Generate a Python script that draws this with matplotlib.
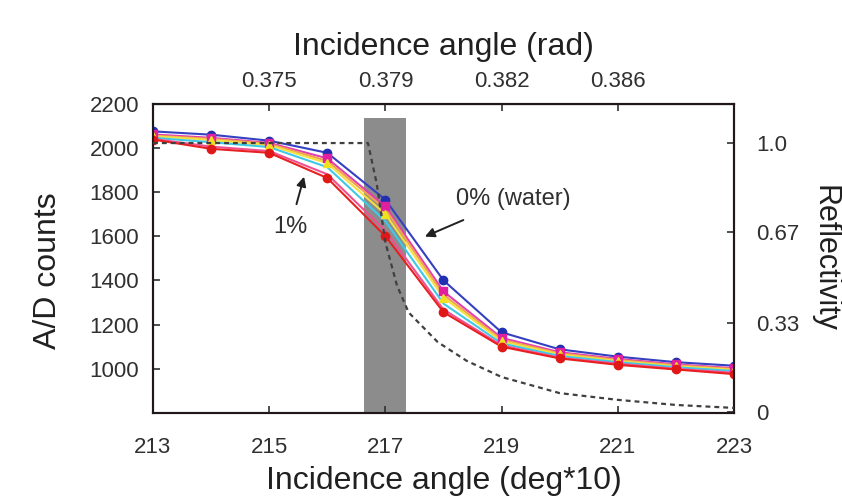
import numpy as np
import matplotlib
matplotlib.use('Agg')
from matplotlib import pyplot as plt

plt.rcParams['font.family'] = ['Liberation Sans', 'DejaVu Sans']

# incidence angle (deg*10) at each measured point
angle = [213, 214, 215, 216, 217, 218, 219, 220, 221, 222, 223]

# A/D counts, 0% (water) down to 1%
counts_0 = [2074, 2059, 2032, 1977, 1765, 1400, 1165, 1088, 1055, 1030, 1014]
counts_a = [2060, 2045, 2022, 1952, 1735, 1350, 1140, 1075, 1045, 1020, 1003]
counts_b = [2055, 2040, 2018, 1940, 1722, 1335, 1132, 1070, 1040, 1016, 999]
counts_c = [2052, 2035, 2012, 1930, 1700, 1322, 1125, 1065, 1035, 1012, 995]
counts_d = [2045, 2025, 2003, 1912, 1668, 1295, 1115, 1058, 1030, 1007, 990]
counts_e = [2040, 2005, 1985, 1880, 1625, 1268, 1106, 1050, 1023, 1000, 982]
counts_1 = [2037, 1995, 1977, 1863, 1600, 1256, 1100, 1047, 1018, 997, 976]

# theoretical reflectivity curve (dashed)
refl_angle = [213, 214, 215, 216, 216.7, 216.85, 217.0, 217.2, 217.4, 217.9, 218.4, 219, 220, 221, 222, 223]
refl = [1.0, 1.0, 1.0, 1.0, 1.0, 0.85, 0.63, 0.47, 0.37, 0.26, 0.19, 0.13, 0.07, 0.045, 0.026, 0.015]

# shaded angle band
band = [216.63, 217.35]
band_top = 2135

bottom_ticks = [213, 215, 217, 219, 221, 223]
top_ticks = [215, 217, 219, 221]
top_labels = ['0.375', '0.379', '0.382', '0.386']
left_ticks = [1000, 1200, 1400, 1600, 1800, 2000, 2200]
right_ticks = [0, 0.33, 0.67, 1.0]
right_labels = ['0', '0.33', '0.67', '1.0']

fig = plt.figure(figsize=(8.42, 4.96), dpi=100)
ax = fig.add_axes([0.1817, 0.1673, 0.69, 0.624])

ymin, ymax = 800, 2200
ax.axvspan(band[0], band[1], ymin=0, ymax=(band_top - ymin) / (ymax - ymin),
           color='#8c8c8c', zorder=0, lw=0)

series = [
    (counts_0, '#3540c0', 'o', '#2030b0'),
    (counts_a, '#e040b0', 's', '#e020a0'),
    (counts_b, '#f5a050', None, None),
    (counts_c, '#f0e040', '^', '#f0e020'),
    (counts_d, '#40c8e8', None, None),
    (counts_e, '#f05090', None, None),
    (counts_1, '#e82020', 'o', '#e01818'),
]
for vals, col, mk, mcol in series:
    ax.plot(angle, vals, color=col, lw=1.5, zorder=3)
    if mk:
        ax.plot(angle, vals, ls='none', marker=mk, ms=6, color=mcol, zorder=4)

ax.set_xlim(213, 223)
ax.set_ylim(ymin, ymax)
ax.set_xticks(bottom_ticks)
ax.set_yticks(left_ticks)
ax.tick_params(direction='in', length=5, width=1.2, labelsize=16, colors='#303030')
ax.tick_params(axis='x', pad=17)
ax.tick_params(axis='y', pad=10)
for s in ax.spines.values():
    s.set_linewidth(1.5)
    s.set_color('#201818')

ax.set_xlabel('Incidence angle (deg*10)', fontsize=23, color='#202020', va='center')
ax.xaxis.set_label_coords(0.5, -0.22)
ax.set_ylabel('A/D counts', fontsize=23, color='#202020', va='center')
ax.yaxis.set_label_coords(-0.181, 0.46)

top = ax.secondary_xaxis('top')
top.set_xticks(top_ticks)
top.set_xticklabels(top_labels)
top.tick_params(direction='in', length=5, width=1.2, labelsize=16, colors='#303030', pad=8)
top.set_xlabel('Incidence angle (rad)', fontsize=23, color='#202020', labelpad=12)

ax2 = ax.twinx()
ax2.plot(refl_angle, refl, color='#404040', lw=1.6, ls=(0, (2.2, 1.8)), zorder=5)
ax2.set_ylim(-0.004, 1.147)
ax2.set_yticks(right_ticks)
ax2.set_yticklabels(right_labels)
ax2.tick_params(direction='in', length=5, width=1.2, labelsize=16, colors='#303030', pad=16)
for s in ax2.spines.values():
    s.set_linewidth(1.5)
    s.set_color('#201818')
ax2.set_ylabel('Reflectivity', fontsize=22, color='#202020', rotation=-90, va='center')
ax2.yaxis.set_label_coords(1.155, 0.5)

ax.annotate('0% (water)', xy=(217.68, 1598), xytext=(219.2, 1770),
            fontsize=17, color='#303030', ha='center', va='center',
            arrowprops=dict(arrowstyle='-|>', color='#202020', lw=1.4,
                            shrinkA=14, shrinkB=0, mutation_scale=14))
ax.annotate('1%', xy=(215.6, 1869), xytext=(215.36, 1640),
            fontsize=17, color='#303030', ha='center', va='center',
            arrowprops=dict(arrowstyle='-|>', color='#202020', lw=1.4,
                            shrinkA=7, shrinkB=0, mutation_scale=14))

fig.savefig('out.png', dpi=100)
